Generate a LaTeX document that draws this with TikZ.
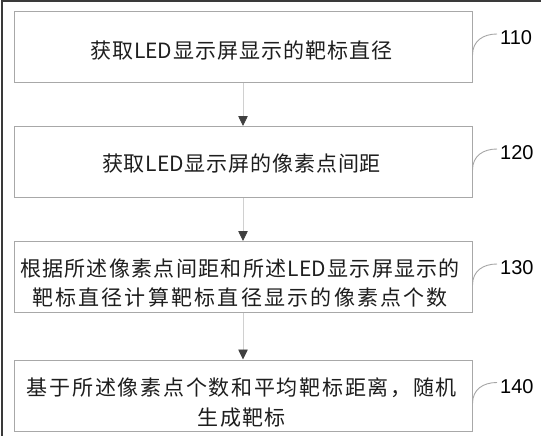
\documentclass[tikz,border=0pt]{standalone}
\usepackage{fontspec}
\setmainfont{Noto Sans CJK SC}
\newfontfamily\labfont{Liberation Sans}
\usetikzlibrary{arrows.meta}
\definecolor{boxgray}{HTML}{A8A8A8}
\definecolor{linegray}{HTML}{D0D0D0}
\definecolor{headc}{HTML}{404040}
\definecolor{txtc}{HTML}{1E1E1E}
\definecolor{framec}{HTML}{3A3A3A}
\makeatletter
\newcommand\spreadline[2]{\makebox[#1][s]{\@tfor\spritem:=#2\do{\spritem\hfil}\unskip}}
\makeatother
\begin{document}
\begin{tikzpicture}[x=1pt,y=-1pt,
  stepbox/.style={draw=boxgray, line width=1pt, minimum width=458pt, minimum height=71pt, inner sep=0pt},
  txt/.style={text=txtc, font=\fontsize{21}{29.5}\selectfont, align=center, inner sep=0pt},
  lab/.style={text=black, font=\labfont\fontsize{20}{22}\selectfont, inner sep=0pt, anchor=west},
  flow/.style={draw=linegray, line width=0.8pt, -{Triangle[length=10pt,width=9.5pt,color=headc]}},
  lead/.style={draw=gray!70, line width=0.9pt}]
\fill[white] (0,0) rectangle (541,436);
\useasboundingbox (0,0) rectangle (541,436);
\draw[framec, line width=2pt] (1.5,436) -- (1.5,1) -- (541,1);
% boxes
\node[stepbox] (b1) at (243,47) {};
\node[stepbox] (b2) at (243,162) {};
\node[stepbox] (b3) at (243,277) {};
\node[stepbox] (b4) at (243,395.5) {};
% texts
\node[txt] (t1) at (241.5,50) {\spreadline{303pt}{获取{LED}显示屏显示的靶标直径}};
\node[txt] (t2) at (241.5,163) {\spreadline{279pt}{获取{LED}显示屏的像素点间距}};
\node[txt] (t3) at (240,283) {\spreadline{440pt}{根据所述像素点间距和所述{LED}显示屏显示的}\\\spreadline{416pt}{靶标直径计算靶标直径显示的像素点个数}};
\node[txt] (t4) at (242,402.5) {\spreadline{430pt}{基于所述像素点个数和平均靶标距离，随机}\\\spreadline{88pt}{生成靶标}};
% connectors
\draw[flow] (b1) -- (b2);
\draw[flow] (b2) -- (b3);
\draw[flow] (b3) -- (b4);
% labels
\node[lab] (l1) at (500,38) {110};
\node[lab] (l2) at (500,153) {120};
\node[lab] (l3) at (500,268) {130};
\node[lab] (l4) at (500,386.5) {140};
\draw[lead] ([yshift=-8pt]b1.east) .. controls +(0,-14) and +(-14,0) .. ([xshift=-3pt,yshift=4pt]l1.west);
\draw[lead] ([yshift=-8pt]b2.east) .. controls +(0,-14) and +(-14,0) .. ([xshift=-3pt,yshift=4pt]l2.west);
\draw[lead] ([yshift=-8pt]b3.east) .. controls +(0,-14) and +(-14,0) .. ([xshift=-3pt,yshift=4pt]l3.west);
\draw[lead] ([yshift=-8pt]b4.east) .. controls +(0,-14) and +(-14,0) .. ([xshift=-3pt,yshift=4pt]l4.west);
\end{tikzpicture}
\end{document}
